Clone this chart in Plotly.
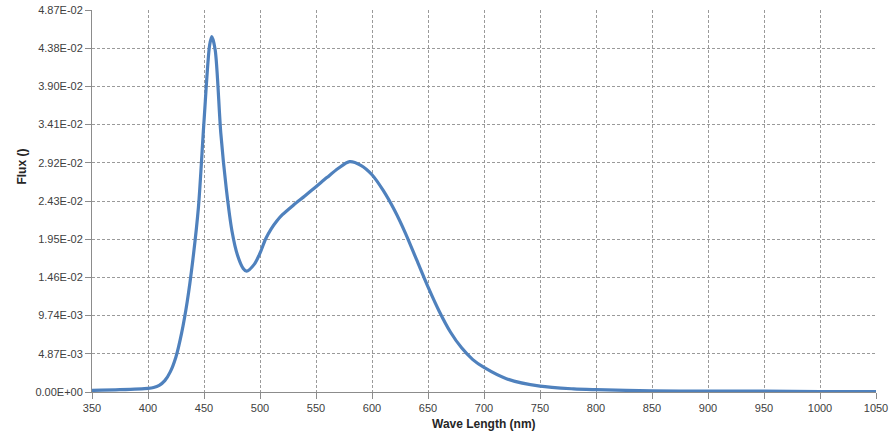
import plotly.graph_objects as go

wavelength = [350, 375, 400, 405, 410, 415, 420, 425, 430, 435, 440, 445, 450, 455, 457,
              460, 465, 470, 475, 480, 485, 488, 495, 500, 505, 510, 515, 520, 530, 540,
              550, 560, 570, 580, 590, 600, 610, 620, 630, 640, 650, 660, 670,
              680, 690, 700, 720, 750, 780, 800, 850, 900, 950, 1000, 1050]
flux_e2 = [0.020, 0.030, 0.047, 0.058, 0.085, 0.145, 0.26, 0.45, 0.75, 1.15, 1.68, 2.35,
           3.45, 4.42, 4.53, 4.36, 3.30, 2.58, 2.05, 1.74, 1.575, 1.54, 1.63,
           1.77, 1.95, 2.08, 2.18, 2.26, 2.384, 2.499, 2.617, 2.737, 2.852, 2.936, 2.89,
           2.77, 2.57, 2.32, 2.02, 1.68, 1.34, 1.03, 0.765, 0.563, 0.413, 0.313,
           0.170, 0.074, 0.040, 0.030, 0.015, 0.010, 0.010, 0.005, 0.005]
flux = [v / 100 for v in flux_e2]

y_tickvals = [0, 0.00487, 0.00974, 0.0146, 0.0195, 0.0243, 0.0292, 0.0341, 0.0390, 0.0438, 0.0487]
y_ticktext = ["0.00E+00", "4.87E-03", "9.74E-03", "1.46E-02", "1.95E-02", "2.43E-02",
              "2.92E-02", "3.41E-02", "3.90E-02", "4.38E-02", "4.87E-02"]
x_tickvals = list(range(350, 1051, 50))

fig = go.Figure(go.Scatter(
    x=wavelength, y=flux, mode="lines",
    line=dict(color="#4F81BD", width=3.2, shape="spline", smoothing=0.8),
    hoverinfo="skip"))

grid = dict(showgrid=True, gridcolor="#9a9a9a", gridwidth=1, griddash="3px,2px",
            showline=True, linecolor="#8c8c8c", linewidth=1,
            ticks="outside", ticklen=6, tickcolor="#8c8c8c",
            tickfont=dict(family="Liberation Sans, Arial", size=11, color="#404040"),
            zeroline=False, automargin=False)

fig.update_xaxes(range=[350, 1050], tickvals=x_tickvals, **grid)
fig.update_yaxes(range=[0, 0.0487], tickvals=y_tickvals, ticktext=y_ticktext, **grid)

fig.add_annotation(text="<b>Wave Length (nm)</b>", xref="paper", yref="paper",
                   x=0.5, y=-0.107, showarrow=False,
                   font=dict(family="Liberation Sans, Arial", size=12, color="#262626"))
fig.add_annotation(text="<b>Flux ()</b>", xref="paper", yref="paper",
                   x=-0.1008, y=0.59, showarrow=False, textangle=-90,
                   font=dict(family="Liberation Sans, Arial", size=12, color="#262626"))

fig.update_layout(width=895, height=445, margin=dict(l=92, r=19, t=10, b=53, autoexpand=False),
                  plot_bgcolor="white", paper_bgcolor="white", showlegend=False)

fig.write_html("out.html", config={"displayModeBar": False},
               post_script="document.body.style.margin='0px';document.body.style.overflow='hidden';")
